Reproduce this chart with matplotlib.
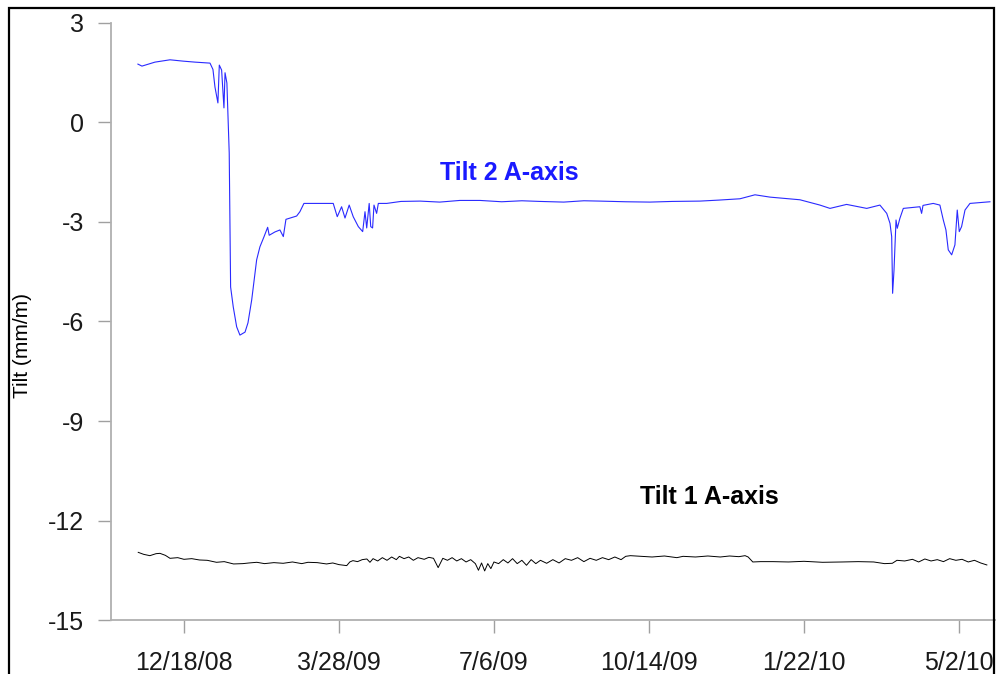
import pandas as pd
import matplotlib
matplotlib.use('Agg')
import matplotlib.pyplot as plt
from matplotlib.patches import Rectangle

plt.rcParams['font.family'] = ['Liberation Sans', 'DejaVu Sans']

# days after 12/18/08, tilt in mm/m
tilt2_days = [-29.7, -27.1, -18.7, -9.0, -0.6, 7.1, 16.8, 18.7, 20.0, 21.9, 22.8, 24.3,
              25.8, 26.5, 27.7, 29.2, 30.1, 31.8, 34.0, 36.1, 39.4, 41.3, 43.7, 46.9,
              49.0, 51.6, 54.0, 55.0, 58.7, 61.9, 64.1, 65.8, 72.7, 74.8, 77.4, 96.3,
              98.9, 101.7, 103.9, 106.6, 109.2, 112.5, 115.3, 116.8, 117.9, 119.5, 120.5,
              121.7, 122.6, 124.3, 125.4, 130.8, 140, 152.3, 165, 178, 191.0, 205, 218,
              229.7, 245, 258, 268.4, 285, 300.6, 315, 332.9, 345, 358.7, 368.4, 378.1,
              397.4, 410.3, 416.8, 427.5, 440.5, 449.0, 453.4, 455.5, 456.6, 457.2, 458.1,
              459.4, 460.2, 461.9, 464.1, 474.8, 475.9, 476.8, 483.4, 487.7, 489.9, 491.6,
              493.1, 495.3, 497.4, 498.9, 500.2, 501.7, 503.9, 507.1, 520.0]
tilt2_vals = [1.76, 1.70, 1.82, 1.89, 1.85, 1.82, 1.79, 1.60, 1.07, 0.59, 1.73, 1.58,
              0.44, 1.50, 1.19, -0.92, -4.96, -5.56, -6.16, -6.41, -6.32, -6.04, -5.35, -4.14,
              -3.75, -3.45, -3.16, -3.40, -3.30, -3.24, -3.44, -2.92, -2.82, -2.69, -2.44, -2.44,
              -2.84, -2.54, -2.88, -2.49, -2.84, -3.14, -3.29, -2.69, -3.18, -2.44, -3.14,
              -3.18, -2.49, -2.74, -2.44, -2.44, -2.38, -2.37, -2.40, -2.35, -2.35, -2.39, -2.36,
              -2.38, -2.40, -2.36, -2.37, -2.39, -2.40, -2.38, -2.37, -2.34, -2.30, -2.18, -2.25,
              -2.33, -2.49, -2.59, -2.47, -2.59, -2.49, -2.74, -3.04, -3.44, -5.15, -4.45,
              -2.94, -3.19, -2.89, -2.59, -2.54, -2.74, -2.50, -2.44, -2.49, -2.94, -3.24,
              -3.84, -3.99, -3.69, -2.64, -3.29, -3.14, -2.64, -2.44, -2.39]

tilt1_days = [-29.5, -26, -22, -18, -15.5, -12, -9, -4, 0, 5, 10, 15, 21, 26, 32, 38, 42,
              47, 52, 58, 64, 70, 76, 80, 86, 92, 96, 100, 105, 107, 109, 112, 115, 118, 120,
              122, 125, 128, 131, 134, 137, 139, 142, 145, 148, 151, 155, 158, 161, 164, 167,
              170, 173, 176, 179, 182, 185, 188, 190, 192, 194, 196, 198, 200, 203, 206, 209,
              212, 215, 218, 221, 224, 227, 230, 234, 238, 242, 246, 250, 254, 258, 262, 266,
              270, 274, 278, 282, 285, 288, 295, 302, 310, 318, 322, 330, 338, 346, 352, 358,
              362, 364, 367, 372, 380, 390, 400, 412, 425, 435, 445, 452, 457, 460, 465, 470,
              474, 478, 482, 486, 490, 494, 498, 502, 506, 510, 514, 518]
tilt1_vals = [-12.96, -13.02, -13.06, -13.00, -12.99, -13.05, -13.14, -13.12, -13.17, -13.15,
              -13.19, -13.20, -13.26, -13.24, -13.31, -13.30, -13.28, -13.26, -13.30, -13.27,
              -13.29, -13.25, -13.30, -13.26, -13.27, -13.31, -13.28, -13.33, -13.36, -13.25,
              -13.21, -13.24, -13.18, -13.16, -13.26, -13.15, -13.22, -13.12, -13.20, -13.10,
              -13.18, -13.08, -13.15, -13.10, -13.20, -13.12, -13.17, -13.11, -13.14, -13.42,
              -13.14, -13.20, -13.12, -13.22, -13.15, -13.25, -13.18, -13.30, -13.50, -13.28,
              -13.52, -13.30, -13.45, -13.25, -13.30, -13.18, -13.28, -13.15, -13.30, -13.20,
              -13.35, -13.18, -13.30, -13.20, -13.29, -13.18, -13.28, -13.15, -13.20, -13.12,
              -13.24, -13.14, -13.20, -13.12, -13.18, -13.10, -13.18, -13.08, -13.06, -13.08,
              -13.10, -13.07, -13.12, -13.08, -13.10, -13.07, -13.10, -13.07, -13.09, -13.06,
              -13.10, -13.25, -13.24, -13.24, -13.25, -13.23, -13.26, -13.25, -13.24, -13.25,
              -13.30, -13.29, -13.20, -13.22, -13.17, -13.25, -13.16, -13.22, -13.18, -13.24,
              -13.15, -13.20, -13.17, -13.25, -13.20, -13.28, -13.34]

tick_labels = ['12/18/08', '3/28/09', '7/6/09', '10/14/09', '1/22/10', '5/2/10']
yticks = [3, 0, -3, -6, -9, -12, -15]

base = pd.Timestamp('2008-12-18')
x2 = base + pd.to_timedelta(tilt2_days, unit='D')
x1 = base + pd.to_timedelta(tilt1_days, unit='D')
tick_dates = pd.to_datetime(tick_labels, format='%m/%d/%y')

fig = plt.figure(figsize=(9.96, 6.74), dpi=100)
ax = fig.add_axes([0.1114, 0.0801, 0.8886, 0.8858])

ax.plot(x2, tilt2_vals, color='#2a2aff', lw=0.8)
ax.plot(x1, tilt1_vals, color='black', lw=0.7)

ax.set_ylim(-15, 3)
ax.set_yticks(yticks)
ax.set_yticklabels([str(v) for v in yticks])
ax.set_xlim(base - pd.Timedelta(days=47.1), base + pd.Timedelta(days=523.9))
ax.set_xticks(tick_dates)
ax.set_xticklabels(tick_labels)

for s in ['top', 'right']:
    ax.spines[s].set_visible(False)
for s in ['left', 'bottom']:
    ax.spines[s].set_color('#b0b0b0')
    ax.spines[s].set_linewidth(1.3)
ax.tick_params(axis='both', direction='out', length=9.5, width=1, color='#a0a0a0',
               labelsize=18, labelcolor='#1a1a1a')
ax.tick_params(axis='y', pad=10)
ax.tick_params(axis='x', pad=13)

ax.set_ylabel('Tilt (mm/m)', fontsize=15)
ax.yaxis.set_label_coords(-0.0893, 0.4606)

ax.text(base + pd.Timedelta(days=165.2), -1.52, 'Tilt 2 A-axis', color='#1a1aff',
        fontsize=18, fontweight='bold', va='center', ha='left')
ax.text(base + pd.Timedelta(days=294.2), -11.29, 'Tilt 1 A-axis', color='black',
        fontsize=18, fontweight='bold', va='center', ha='left')

fig.patches.append(Rectangle((0.009, -0.1), 0.989, 1.088, transform=fig.transFigure,
                             fill=False, edgecolor='black', lw=1.6))

fig.savefig('out.png', dpi=100)
